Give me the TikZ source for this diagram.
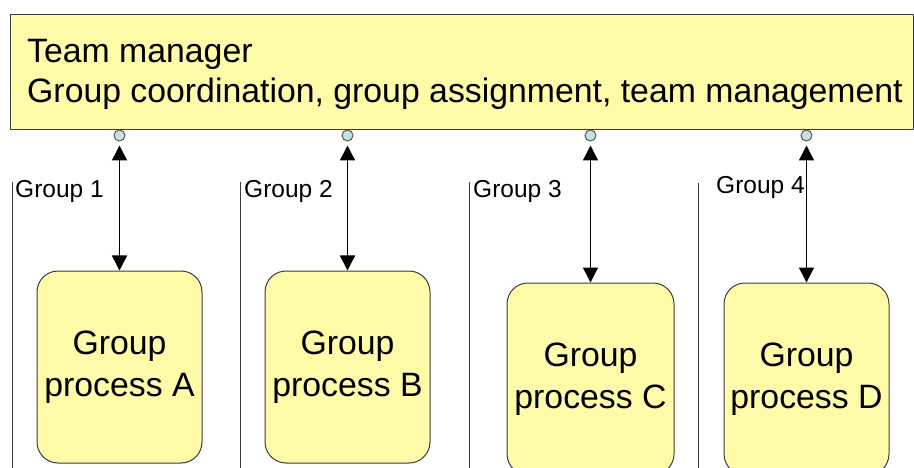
\documentclass[tikz,border=0pt]{standalone}
\usepackage{fontspec}
\setmainfont{Liberation Sans}
\usetikzlibrary{arrows.meta}
\definecolor{padyellow}{RGB}{255,251,168}
\definecolor{portblue}{RGB}{196,226,228}
\definecolor{edgegray}{RGB}{60,60,60}
\tikzset{
  managerbox/.style={draw=edgegray, line width=1pt, fill=padyellow, minimum width=903pt, minimum height=115pt, inner sep=0pt},
  bigtext/.style={font=\fontsize{33.8}{42}\selectfont},
  procbox/.style={draw=edgegray, line width=1pt, fill=padyellow, rounded corners=21pt, minimum width=165pt, minimum height=192pt, align=center, bigtext},
  port/.style={circle, draw=gray!70!black, line width=1pt, fill=portblue, minimum size=11pt, inner sep=0pt},
  link/.style={line width=1.4pt, {Triangle[width=15pt,length=15pt]}-{Triangle[width=15pt,length=15pt]}, shorten <=4pt},
  grouplabel/.style={anchor=base west, inner sep=0pt, font=\fontsize{24.5}{28}\selectfont},
  laneline/.style={line width=1pt, draw=edgegray}
}

\begin{document}
\begin{tikzpicture}[x=1pt, y=-1pt]
		%%%%% START %%%%%
		\clip (0,0) rectangle (914,468);
		
		\node (manager) [managerbox, anchor=north west] at (10,14) {};
		\node (title) [bigtext, anchor=base west, inner sep=0pt] at (27,63) {Team manager};
		\node (duties) [bigtext, anchor=base west, inner sep=0pt] at (27,103) {Group coordination, group assignment, team management};
		
		\node (port1) [port] at (119.5,135.5) {};
		\node (port2) [port] at (347.5,135.5) {};
		\node (port3) [port] at (590.5,135.5) {};
		\node (port4) [port] at (806.5,135.5) {};
		
		\draw[laneline] (12,182) -- (12,468);
		\draw[laneline] (240,182) -- (240,468);
		\draw[laneline] (469,182) -- (469,468);
		\draw[laneline] (698,183) -- (698,468);
		
		\node (group1) [grouplabel] at (15,198) {Group 1};
		\node (group2) [grouplabel] at (244,198) {Group 2};
		\node (group3) [grouplabel] at (473,198) {Group 3};
		\node (group4) [grouplabel] at (716,194) {Group 4};
		
		\node (procA) [procbox] at (119.5,367) {Group\\process A};
		\node (procB) [procbox] at (347.5,367) {Group\\process B};
		\node (procC) [procbox, minimum width=167pt] at (590.5,379) {Group\\process C};
		\node (procD) [procbox] at (806.5,379) {Group\\process D};
		
		\draw[link] (port1) -- (procA);
		\draw[link] (port2) -- (procB);
		\draw[link] (port3) -- (procC);
		\draw[link] (port4) -- (procD);
		
		%%%%% END %%%%%
\end{tikzpicture}
\end{document}
